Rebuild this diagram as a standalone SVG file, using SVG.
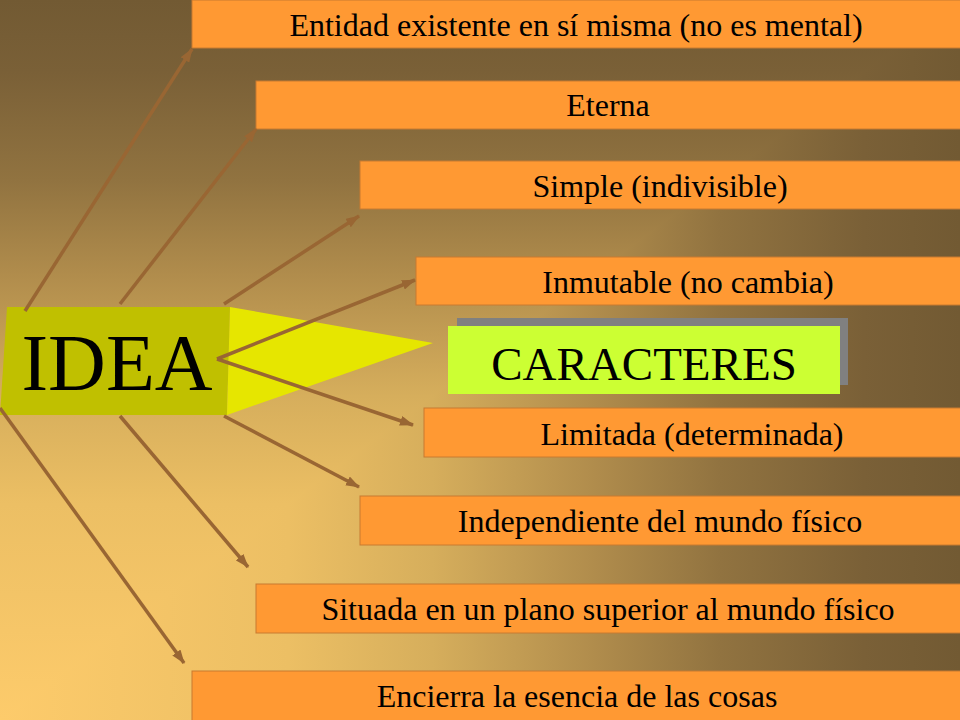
<svg xmlns="http://www.w3.org/2000/svg" width="960" height="720" viewBox="0 0 960 720">
<defs>
<linearGradient id="gv" x1="0" y1="720" x2="0" y2="0" gradientUnits="userSpaceOnUse">
<stop offset="0" stop-color="#fdcb6b"/><stop offset="0.3" stop-color="#ecbf64"/><stop offset="0.45" stop-color="#d6ae5c"/><stop offset="0.62" stop-color="#b08c4c"/><stop offset="0.75" stop-color="#917340"/><stop offset="0.9" stop-color="#7a6037"/><stop offset="1" stop-color="#725a33"/>
</linearGradient>
<linearGradient id="gh" x1="0" y1="0" x2="960" y2="0" gradientUnits="userSpaceOnUse">
<stop offset="0" stop-color="#fdcb6b"/><stop offset="0.3" stop-color="#ecbf64"/><stop offset="0.45" stop-color="#d6ae5c"/><stop offset="0.62" stop-color="#b08c4c"/><stop offset="0.75" stop-color="#917340"/><stop offset="0.9" stop-color="#7a6037"/><stop offset="1" stop-color="#725a33"/>
</linearGradient>
<marker id="ah" markerUnits="userSpaceOnUse" markerWidth="14" markerHeight="10" refX="13" refY="5" orient="auto" viewBox="0 0 14 10">
<path d="M0,0 L14,5 L0,10 Z" fill="#996633"/>
</marker>
<style>
.box{fill:#ff9933;stroke:#c87a30;stroke-width:1}
.t{font-family:"Liberation Serif","Times New Roman",serif;font-size:32px;fill:#000;text-anchor:middle}
.c line{stroke:#996633;stroke-width:3.5;marker-end:url(#ah)}
</style>
</defs>
<rect width="960" height="720" fill="url(#gv)"/>
<polygon points="0,720 960,0 960,720" fill="url(#gh)"/>

<g id="idea">
<polygon points="7,307 230,307 227,415 0,415" fill="#c0c000"/>
<polygon points="230,307 433,343 227,415" fill="#e6e600"/>
<text x="117" y="390" style="font-family:'Liberation Serif','Times New Roman',serif;font-size:80px;fill:#000;text-anchor:middle">IDEA</text>
</g>

<g id="caracteres">
<rect x="457" y="318" width="391" height="67" fill="#808080"/>
<rect x="448" y="326" width="392" height="68" fill="#ccff33"/>
<text x="644" y="380" style="font-family:'Liberation Serif','Times New Roman',serif;font-size:47px;fill:#000;text-anchor:middle">CARACTERES</text>
</g>

<g id="n1"><rect class="box" x="192" y="0" width="770" height="48"/><text class="t" x="576" y="36">Entidad existente en sí misma (no es mental)</text></g>
<g id="n2"><rect class="box" x="256" y="81" width="706" height="48"/><text class="t" x="608" y="116">Eterna</text></g>
<g id="n3"><rect class="box" x="360" y="161" width="602" height="48"/><text class="t" x="660" y="197">Simple (indivisible)</text></g>
<g id="n4"><rect class="box" x="416" y="257" width="546" height="48"/><text class="t" x="688" y="293">Inmutable (no cambia)</text></g>
<g id="n5"><rect class="box" x="424" y="408" width="538" height="49"/><text class="t" x="692" y="445">Limitada (determinada)</text></g>
<g id="n6"><rect class="box" x="360" y="496" width="602" height="49"/><text class="t" x="660" y="532">Independiente del mundo físico</text></g>
<g id="n7"><rect class="box" x="256" y="584" width="706" height="49"/><text class="t" x="608" y="620">Situada en un plano superior al mundo físico</text></g>
<g id="n8"><rect class="box" x="192" y="671" width="770" height="50"/><text class="t" x="577" y="707">Encierra la esencia de las cosas</text></g>

<g id="connectors" class="c">
<line x1="25" y1="311" x2="192" y2="49"/>
<line x1="120" y1="304" x2="256" y2="129"/>
<line x1="224" y1="304" x2="359" y2="216"/>
<line x1="217" y1="359" x2="415" y2="280"/>
<line x1="217" y1="359" x2="413" y2="425"/>
<line x1="224" y1="416" x2="359" y2="487"/>
<line x1="120" y1="416" x2="248" y2="567"/>
<line x1="0" y1="408" x2="184" y2="663"/>
</g>
</svg>
